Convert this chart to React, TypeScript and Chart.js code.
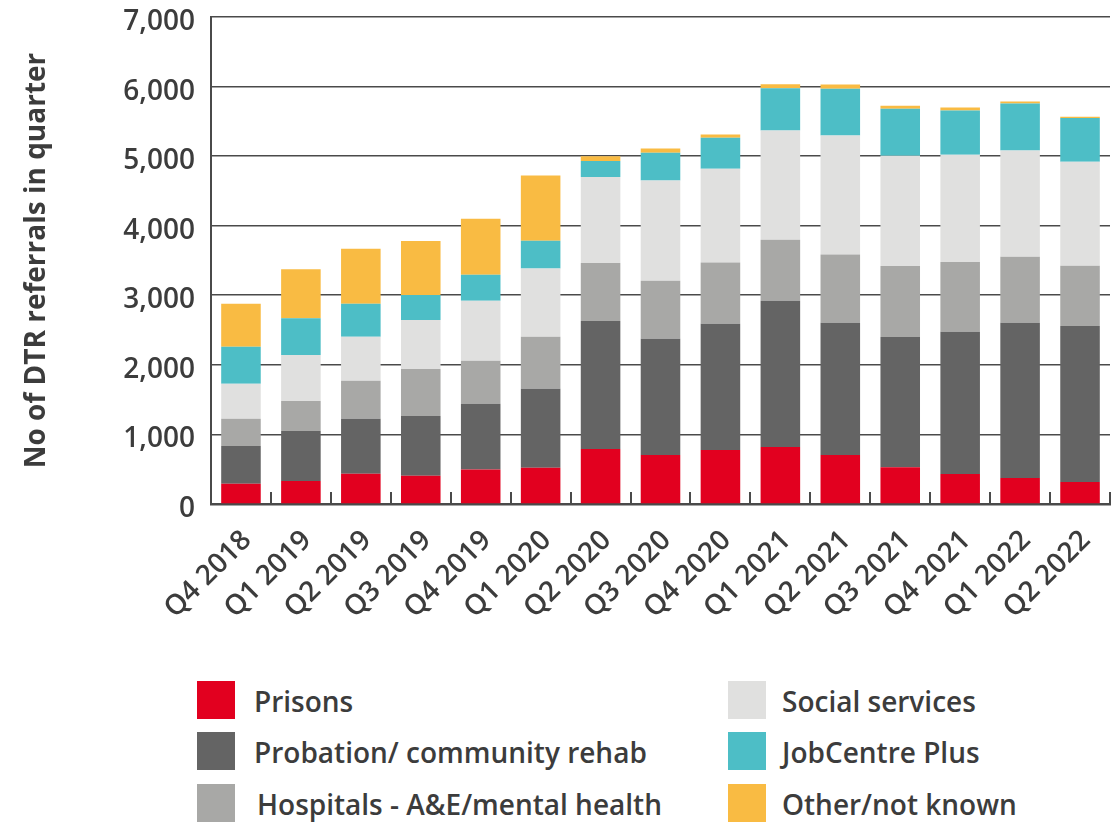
import React, { useEffect, useRef } from "react";
import { Chart, registerables } from "chart.js";

Chart.register(...registerables);

const categories = [
  "Q4 2018", "Q1 2019", "Q2 2019", "Q3 2019", "Q4 2019", "Q1 2020", "Q2 2020",
  "Q3 2020", "Q4 2020", "Q1 2021", "Q2 2021", "Q3 2021", "Q4 2021", "Q1 2022", "Q2 2022",
];

const prisons = [290, 330, 435, 405, 495, 520, 790, 705, 775, 820, 705, 530, 430, 375, 315];
const probation = [545, 720, 790, 860, 945, 1135, 1840, 1670, 1815, 2100, 1900, 1870, 2045, 2230, 2245];
const hospitals = [390, 430, 545, 675, 620, 750, 835, 835, 880, 880, 980, 1020, 1005, 950, 865];
const socialServices = [505, 660, 635, 705, 860, 980, 1235, 1440, 1350, 1570, 1710, 1585, 1540, 1525, 1495];
const jobCentre = [530, 530, 475, 360, 375, 400, 230, 400, 445, 605, 675, 675, 635, 675, 630];
const otherUnknown = [620, 705, 790, 775, 805, 935, 70, 60, 45, 60, 60, 45, 45, 30, 15];

const seriesNames = [
  "Prisons",
  "Probation/ community rehab",
  "Hospitals - A&E/mental health",
  "Social services",
  "JobCentre Plus",
  "Other/not known",
];
const seriesColors = ["#E2001F", "#646464", "#A8A8A6", "#E0E0DF", "#4DBEC6", "#F9BB43"];
const seriesValues = [prisons, probation, hospitals, socialServices, jobCentre, otherUnknown];

const yTicks = [0, 1000, 2000, 3000, 4000, 5000, 6000, 7000];
const yTitle = "No of DTR referrals in quarter";

const TEXT = "#3c3c3c";
const FONT = "'Open Sans', 'DejaVu Sans', sans-serif";

const innerTicks = {
  id: "innerTicks",
  afterDatasetsDraw(chart: any) {
    const { ctx, chartArea } = chart;
    const n = categories.length;
    const w = (chartArea.right - chartArea.left) / n;
    ctx.save();
    ctx.strokeStyle = "#4a4a4a";
    ctx.lineWidth = 2;
    ctx.beginPath();
    for (let i = 1; i <= n; i++) {
      const px = Math.round(chartArea.left + i * w);
      ctx.moveTo(px, chartArea.bottom);
      ctx.lineTo(px, chartArea.bottom - 12);
    }
    ctx.stroke();
    ctx.restore();
  },
};

export default function App() {
  const ref = useRef<HTMLCanvasElement>(null);

  useEffect(() => {
    if (!ref.current) return;
    const chart = new Chart(ref.current, {
      type: "bar",
      data: {
        labels: categories,
        datasets: seriesValues.map((vals, i) => ({
          label: seriesNames[i],
          data: vals,
          backgroundColor: seriesColors[i],
          borderWidth: 0,
          barPercentage: 0.66,
          categoryPercentage: 1,
        })),
      },
      plugins: [innerTicks],
      options: {
        animation: false,
        responsive: false,
        devicePixelRatio: 1,
        layout: { padding: { left: 0, top: 17, right: 2, bottom: 0 } },
        plugins: {
          legend: { display: false },
          tooltip: { enabled: false },
        },
        scales: {
          x: {
            stacked: true,
            grid: { display: false, drawTicks: false },
            border: { display: true, color: "#4a4a4a", width: 2.5 },
            ticks: {
              color: TEXT,
              font: { family: FONT, size: 28, weight: 600 },
              minRotation: 45,
              maxRotation: 45,
              padding: 20,
              labelOffset: 6,
              autoSkip: false,
            },
            afterFit: (scale: any) => {
              scale.height = 146;
              scale.paddingLeft = 0;
              scale.paddingRight = 0;
            },
          },
          y: {
            stacked: true,
            min: 0,
            max: 7000,
            afterBuildTicks: (scale: any) => {
              scale.ticks = yTicks.map((v) => ({ value: v }));
            },
            grid: { color: "#4a4a4a", lineWidth: 1.6, drawTicks: false },
            border: { display: true, color: "#4a4a4a", width: 2 },
            ticks: {
              color: TEXT,
              font: { family: FONT, size: 28, weight: 600 },
              padding: 16,
              labelOffset: 5,
              callback: (v: any) => Number(v).toLocaleString("en-US"),
            },
            title: {
              display: true,
              text: yTitle,
              color: TEXT,
              font: { family: FONT, size: 28, weight: "bold" },
              padding: { top: 20, bottom: 0 },
            },
            afterFit: (scale: any) => {
              scale.width = 211;
              scale.paddingTop = 0;
              scale.paddingBottom = 0;
            },
          },
        },
      },
    });
    return () => chart.destroy();
  }, []);

  const legendItem = (i: number, left: number, top: number, textLeft: number) => (
    <div key={i}>
      <div
        style={{
          position: "absolute",
          left,
          top,
          width: 38,
          height: 38,
          background: seriesColors[i],
        }}
      />
      <div
        style={{
          position: "absolute",
          left: textLeft,
          top: top + 1,
          height: 38,
          lineHeight: "38px",
          fontFamily: FONT,
          fontWeight: 600,
          fontSize: 28,
          color: TEXT,
          whiteSpace: "nowrap",
        }}
      >
        {seriesNames[i]}
      </div>
    </div>
  );

  const rowTops = [681, 732, 784];

  return (
    <div
      style={{
        position: "absolute",
        left: 0,
        top: 0,
        width: 1112,
        height: 822,
        overflow: "hidden",
        background: "#fff",
      }}
    >
      <canvas ref={ref} width={1112} height={650} style={{ position: "absolute", left: 0, top: 0 }} />
      {[0, 1, 2].map((i) => legendItem(i, 197, rowTops[i], i === 2 ? 257 : 254))}
      {[3, 4, 5].map((i) => legendItem(i, 728, rowTops[i - 3], 782))}
    </div>
  );
}
